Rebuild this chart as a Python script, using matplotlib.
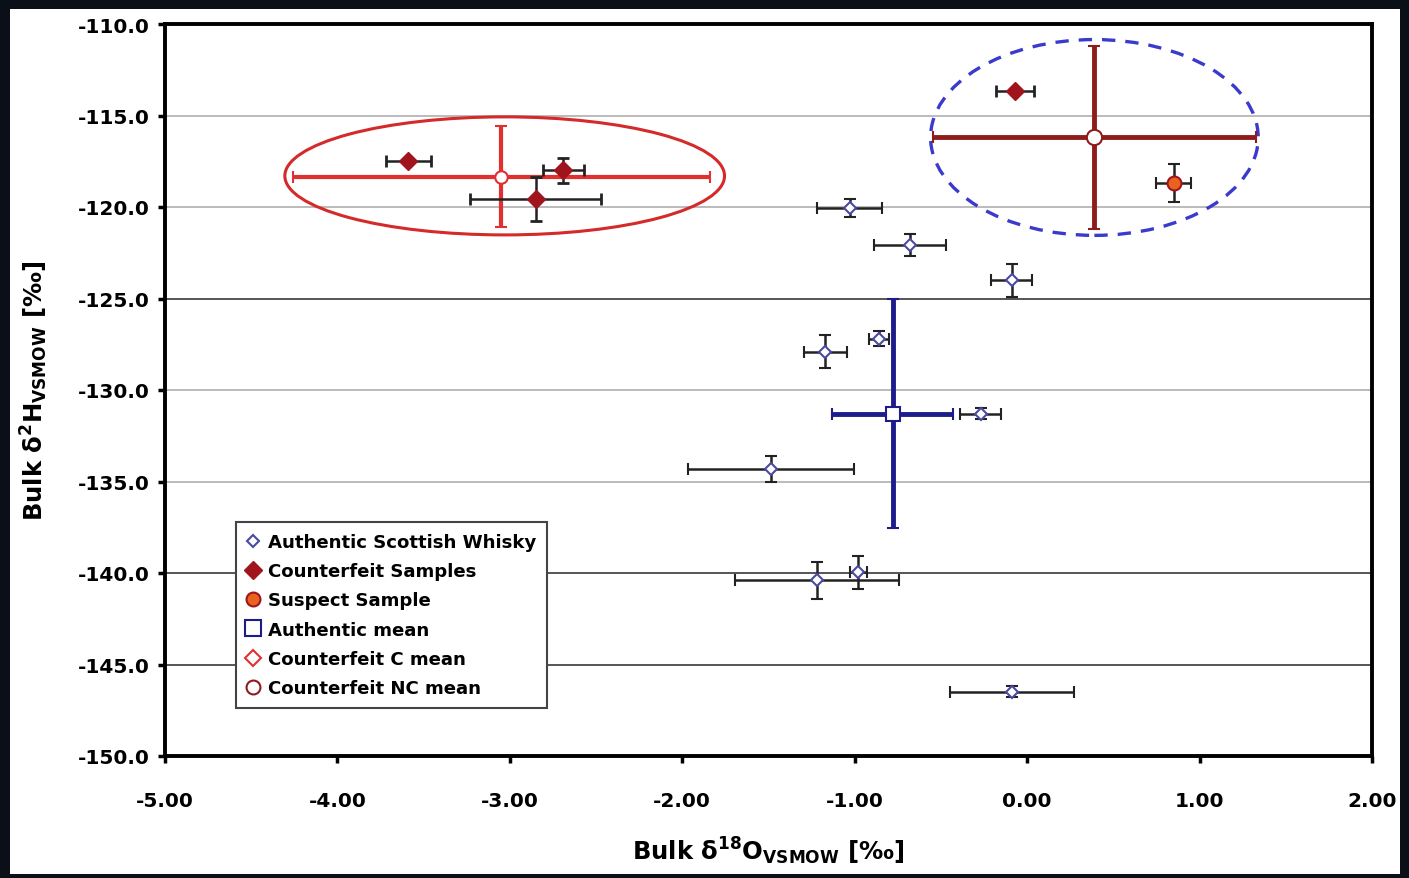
import numpy as np
import matplotlib.pyplot as plt
from matplotlib.lines import Line2D
from matplotlib.patches import Ellipse, Rectangle

plt.rcParams['font.family'] = ['DejaVu Sans']
plt.rcParams['mathtext.fontset'] = 'dejavusans'

# authentic scottish whisky samples (d18O, d2H, errors)
auth_x = [-1.03, -0.68, -0.09, -0.86, -1.17, -0.27, -1.485, -1.22, -0.98, -0.09]
auth_y = [-120.05, -122.1, -124.0, -127.2, -127.9, -131.3, -134.3, -140.4, -139.95, -146.5]
auth_xerr = [0.19, 0.21, 0.12, 0.06, 0.125, 0.12, 0.48, 0.475, 0.05, 0.36]
auth_yerr = [0.5, 0.6, 0.9, 0.4, 0.9, 0.3, 0.7, 1.0, 0.9, 0.3]

# counterfeit samples
cf_x = [-3.59, -2.69, -2.85, -0.07]
cf_y = [-117.5, -118.0, -119.55, -113.65]
cf_xerr = [0.13, 0.12, 0.38, 0.11]
cf_yerr = [0.0, 0.7, 1.2, 0.0]

# suspect sample
sus_x, sus_y, sus_xerr, sus_yerr = [0.85], [-118.7], [0.1], [1.05]

# means
am_x, am_y, am_xerr, am_yerr = [-0.78], [-131.3], [0.35], [6.25]
cm_x, cm_y, cm_xerr, cm_yerr = [-3.05], [-118.35], [1.21], [2.75]
ncm_x, ncm_y, ncm_xerr, ncm_yerr = [0.39], [-116.2], [0.935], [5.0]

# group ellipses (centre x, centre y, width, height in data units)
c_ell = (-3.03, -118.3, 2.55, 6.45)
nc_ell = (0.39, -116.2, 1.90, 10.7)

legend_labels = ['Authentic Scottish Whisky', 'Counterfeit Samples', 'Suspect Sample',
                 'Authentic mean', 'Counterfeit C mean', 'Counterfeit NC mean']

fig = plt.figure(figsize=(14.09, 8.79), dpi=100)
fig.patch.set_facecolor('#0b1018')
fig.patches.append(Rectangle((10/1409, 1-875/879), 1390/1409, 865/879,
                             transform=fig.transFigure, facecolor='white',
                             edgecolor='none', zorder=-10))

ax = fig.add_axes([165/1409, 1-757/879, 1207/1409, 732/879])
ax.set_zorder(2)
ax.set_xlim(-5, 2)
ax.set_ylim(-150, -110)
ax.set_xticks(np.arange(-5, 2.01, 1))
ax.set_yticks(np.arange(-150, -109, 5))
ax.set_xticklabels(['%.2f' % v for v in np.arange(-5, 2.01, 1)])
ax.set_yticklabels(['%.1f' % v for v in np.arange(-150, -109, 5)])

grid_cols = {-145: '#555555', -140: '#555555', -135: '#bbbbbb', -130: '#bbbbbb',
             -125: '#555555', -120: '#bbbbbb', -115: '#bbbbbb'}
for yv, c in grid_cols.items():
    ax.axhline(yv, color=c, lw=1.4, zorder=1)

for s in ax.spines.values():
    s.set_linewidth(2.8)
ax.tick_params(direction='out', length=5, width=2.5, labelsize=14.5, pad=6)
for t in ax.get_xticklabels() + ax.get_yticklabels():
    t.set_fontweight('bold')
ax.tick_params(axis='x', pad=20)

ax.set_xlabel(r'Bulk $\mathbf{\delta^{18}O_{VSMOW}}$ [‰]', fontsize=17.5, fontweight='bold', labelpad=18)
ax.set_ylabel(r'Bulk $\mathbf{\delta^{2}H_{VSMOW}}$ [‰]', fontsize=17.5, fontweight='bold', labelpad=20)

# ellipses
ax.add_patch(Ellipse((c_ell[0], c_ell[1]), c_ell[2], c_ell[3], fill=False,
                     edgecolor='#d42a2a', lw=2.2, zorder=2))
ax.add_patch(Ellipse((nc_ell[0], nc_ell[1]), nc_ell[2], nc_ell[3], fill=False,
                     edgecolor='#3a3acc', lw=2.4, ls=(0, (4, 3)), zorder=2))

# means
ax.errorbar(am_x, am_y, xerr=am_xerr, yerr=am_yerr, fmt='s', ms=10, mfc='white',
            mec='#1c1c8a', mew=1.5, ecolor='#1c1c8a', elinewidth=3.5, capsize=4,
            capthick=3, zorder=3)
ax.errorbar(cm_x, cm_y, xerr=cm_xerr, yerr=cm_yerr, fmt='o', ms=9, mfc='white',
            mec='#e03030', mew=1.5, ecolor='#e03030', elinewidth=3, capsize=4,
            capthick=3, zorder=3)
ax.errorbar(ncm_x, ncm_y, xerr=ncm_xerr, yerr=ncm_yerr, fmt='o', ms=11, mfc='white',
            mec='#8e1c1c', mew=1.5, ecolor='#8e1c1c', elinewidth=3.5, capsize=4,
            capthick=3, zorder=3)

# samples
ax.errorbar(auth_x, auth_y, xerr=auth_xerr, yerr=auth_yerr, fmt='D', ms=6,
            mfc='white', mec='#4a4aa0', mew=1.5, ecolor='#222222', elinewidth=1.8,
            capsize=4, capthick=2, zorder=4)
ax.errorbar(cf_x, cf_y, xerr=cf_xerr, yerr=cf_yerr, fmt='D', ms=9,
            mfc='#a0141e', mec='#a0141e', ecolor='#222222', elinewidth=1.8,
            capsize=4, capthick=2, zorder=4)
ax.errorbar(sus_x, sus_y, xerr=sus_xerr, yerr=sus_yerr, fmt='o', ms=10,
            mfc='#e8641e', mec='#a0141e', mew=1.5, ecolor='#222222', elinewidth=1.8,
            capsize=4, capthick=2, zorder=4)

handles = [
    Line2D([], [], ls='none', marker='D', ms=6, mfc='white', mec='#4a4aa0', mew=1.5),
    Line2D([], [], ls='none', marker='D', ms=9, mfc='#a0141e', mec='#a0141e'),
    Line2D([], [], ls='none', marker='o', ms=10, mfc='#e8641e', mec='#a0141e', mew=1.5),
    Line2D([], [], ls='none', marker='s', ms=11, mfc='white', mec='#1c1c8a', mew=1.5),
    Line2D([], [], ls='none', marker='D', ms=8, mfc='white', mec='#e03030', mew=1.5),
    Line2D([], [], ls='none', marker='o', ms=10, mfc='white', mec='#8e1c1c', mew=1.5),
]
leg = ax.legend(handles, legend_labels, loc='upper left', bbox_to_anchor=(0.0588, 0.3197),
                borderaxespad=0, fancybox=False, framealpha=1, edgecolor='#444444',
                prop={'weight': 'bold', 'size': 13.1}, handlelength=0.7,
                handletextpad=0.45, labelspacing=0.62, borderpad=0.6)
leg.get_frame().set_linewidth(1.5)
leg.set_zorder(6)

plt.savefig('out.png', dpi=100, facecolor=fig.get_facecolor())
